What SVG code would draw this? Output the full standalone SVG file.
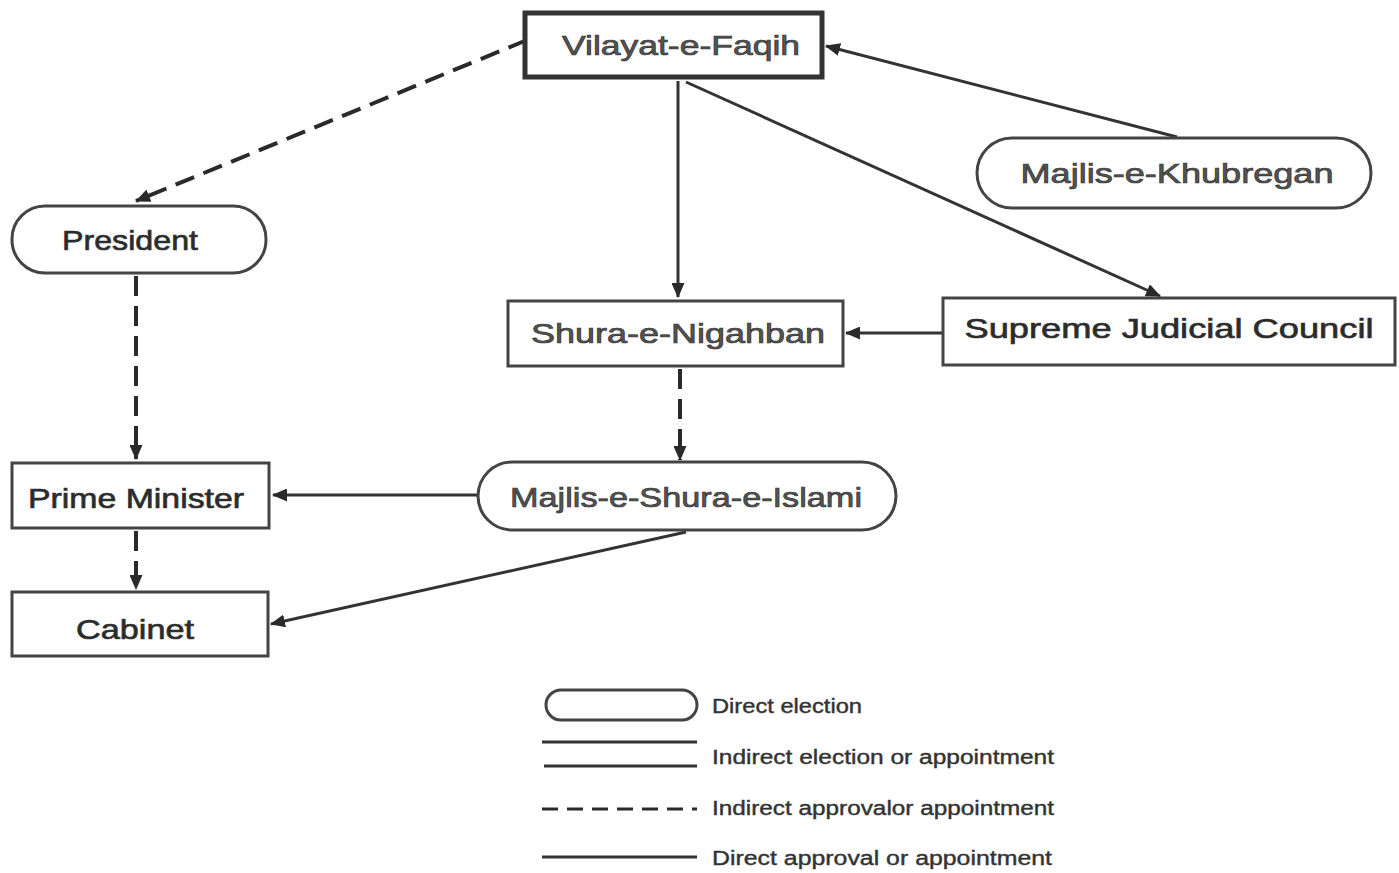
<svg xmlns="http://www.w3.org/2000/svg" width="1399" height="873" viewBox="0 0 1399 873">
<defs>
<marker id="arr" markerWidth="15" markerHeight="13" refX="14" refY="6.5" orient="auto" markerUnits="userSpaceOnUse" viewBox="0 0 15 13">
<path d="M0,0 L15,6.5 L0,13 z" fill="#2a2a2a"/>
</marker>
</defs>
<style>
.box{fill:#fff;stroke:#444;stroke-width:3}
.thick{stroke-width:5;stroke:#333}
.lbl{font-family:"Liberation Sans",Arial,sans-serif;font-size:28px;fill:#555;text-anchor:middle;dominant-baseline:central;stroke:#333;stroke-width:0.7}
.dark{fill:#2a2a2a}
.leg{font-family:"Liberation Sans",Arial,sans-serif;font-size:20px;fill:#333;dominant-baseline:central;stroke:#333;stroke-width:0.4}
.solid{fill:none;stroke:#333;stroke-width:3}
.dash{fill:none;stroke:#2a2a2a;stroke-width:4;stroke-dasharray:20,10}
</style>
<rect width="1399" height="873" fill="#fff"/>
<g id="connectors">
<line class="dash" x1="527" y1="40" x2="136" y2="201" marker-end="url(#arr)"/>
<line class="solid" x1="1177" y1="137" x2="826" y2="46" marker-end="url(#arr)"/>
<line class="solid" x1="678" y1="81" x2="678" y2="297" marker-end="url(#arr)"/>
<line class="solid" x1="686" y1="82" x2="1160" y2="296" marker-end="url(#arr)"/>
<line class="solid" x1="942" y1="333" x2="846" y2="333" marker-end="url(#arr)"/>
<line class="dash" x1="680" y1="369" x2="680" y2="460" marker-end="url(#arr)"/>
<line class="solid" x1="477" y1="495" x2="273" y2="495" marker-end="url(#arr)"/>
<line class="solid" x1="686" y1="532" x2="271" y2="624" marker-end="url(#arr)"/>
<line class="dash" x1="136" y1="276" x2="136" y2="459" marker-end="url(#arr)"/>
<line class="dash" x1="136" y1="531" x2="136" y2="589" marker-end="url(#arr)"/>
</g>
<g id="vilayat">
<rect class="box thick" x="525" y="13" width="297" height="64"/>
<text class="lbl" x="681" y="45" textLength="238" lengthAdjust="spacingAndGlyphs">Vilayat-e-Faqih</text>
</g>
<g id="khubregan">
<rect class="box" x="977" y="138" width="394" height="70" rx="35"/>
<text class="lbl" x="1177" y="173" textLength="313" lengthAdjust="spacingAndGlyphs">Majlis-e-Khubregan</text>
</g>
<g id="president">
<rect class="box" x="12" y="206" width="254" height="67" rx="33"/>
<text class="lbl dark" x="130" y="240" textLength="136" lengthAdjust="spacingAndGlyphs">President</text>
</g>
<g id="nigahban">
<rect class="box" x="508" y="301" width="335" height="65"/>
<text class="lbl" x="678" y="333" textLength="294" lengthAdjust="spacingAndGlyphs">Shura-e-Nigahban</text>
</g>
<g id="sjc">
<rect class="box" x="943" y="298" width="452" height="67"/>
<text class="lbl dark" x="1169" y="328" textLength="409" lengthAdjust="spacingAndGlyphs">Supreme Judicial Council</text>
</g>
<g id="shura-islami">
<rect class="box" x="478" y="462" width="418" height="68" rx="34"/>
<text class="lbl" x="686" y="497" textLength="352" lengthAdjust="spacingAndGlyphs">Majlis-e-Shura-e-Islami</text>
</g>
<g id="pm">
<rect class="box" x="12" y="463" width="257" height="65"/>
<text class="lbl dark" x="136" y="498" textLength="216" lengthAdjust="spacingAndGlyphs">Prime Minister</text>
</g>
<g id="cabinet">
<rect class="box" x="12" y="592" width="256" height="64"/>
<text class="lbl dark" x="135" y="629" textLength="118" lengthAdjust="spacingAndGlyphs">Cabinet</text>
</g>
<g id="legend">
<rect class="box" x="546" y="690" width="151" height="30" rx="15"/>
<text class="leg" x="712" y="706" textLength="150" lengthAdjust="spacingAndGlyphs">Direct election</text>
<line class="solid" x1="542" y1="742" x2="697" y2="742"/>
<line class="solid" x1="544" y1="766" x2="697" y2="766"/>
<text class="leg" x="712" y="757" textLength="342" lengthAdjust="spacingAndGlyphs">Indirect election or appointment</text>
<line x1="542" y1="809" x2="697" y2="809" stroke="#2a2a2a" stroke-width="3" stroke-dasharray="16,9"/>
<text class="leg" x="712" y="808" textLength="342" lengthAdjust="spacingAndGlyphs">Indirect approvalor appointment</text>
<line class="solid" x1="542" y1="857" x2="697" y2="857"/>
<text class="leg" x="712" y="858" textLength="340" lengthAdjust="spacingAndGlyphs">Direct approval or appointment</text>
</g>
</svg>
